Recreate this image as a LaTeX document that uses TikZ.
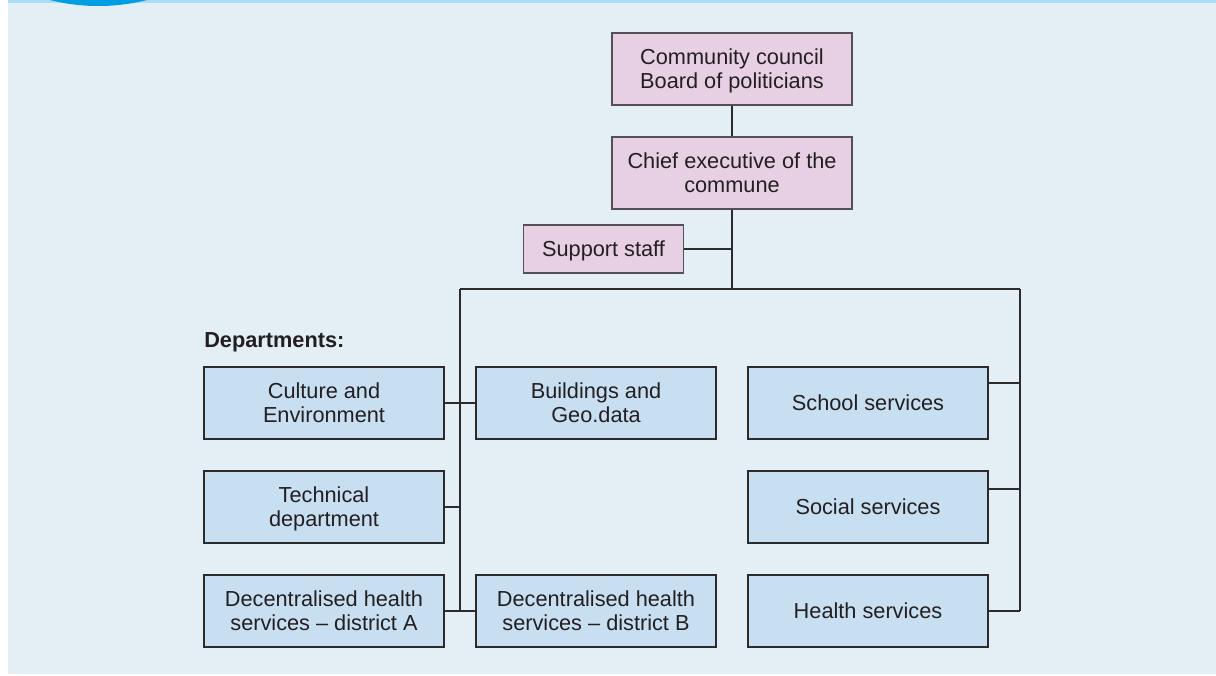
\documentclass[tikz,border=0pt]{standalone}
\usepackage{fontspec}
\setmainfont{Liberation Sans}
\usetikzlibrary{shadows}
\definecolor{bgblue}{HTML}{E3EEF5}
\definecolor{band}{HTML}{A8DDF5}
\definecolor{dotblue}{HTML}{009FE3}
\definecolor{boxblue}{HTML}{C8DFF2}
\definecolor{boxpink}{HTML}{E7CFE4}
\definecolor{txt}{HTML}{231F20}
\definecolor{edgec}{HTML}{2B2B2B}
\definecolor{pinkedge}{HTML}{555055}
\newcommand\fstr{\rule{0pt}{16.4pt}}
\newcommand\lstr{\rule[-5.4pt]{0pt}{0pt}}
\tikzset{
  base/.style={draw, line width=0.9pt, align=center, text=txt, inner sep=2pt,
    font=\fontsize{16.3}{18}\selectfont},
  deptbox/.style={base, fill=boxblue, draw=edgec, minimum width=180pt, minimum height=54pt,
    drop shadow={shadow xshift=0.8pt, shadow yshift=-0.8pt, fill=black!60, opacity=0.6}},
  topbox/.style={base, fill=boxpink, draw=pinkedge, minimum width=180pt, minimum height=54pt},
  smallbox/.style={base, fill=boxpink, draw=pinkedge, minimum width=120pt, minimum height=36pt},
  link/.style={draw=edgec, line width=0.9pt}
}
\begin{document}
\begin{tikzpicture}[x=0.75pt, y=-0.75pt]
\useasboundingbox (0,0) rectangle (1216,675);
\fill[white] (0,0) rectangle (1216,675);
\fill[bgblue] (8,0) rectangle (1216,674);
\fill[band] (8,0) rectangle (1216,3.3);
\begin{scope}
  \clip (0,0) rectangle (1216,675);
  \fill[dotblue] (98.5,-193) circle[radius=149.25pt];
\end{scope}

\node[topbox] (cc) at (732,69) {\fstr Community council\\Board of politicians\lstr};
\node[topbox] (ce) at (732,173) {\fstr Chief executive of the\\commune\lstr};
\node[smallbox] (ss) at (603.5,249) {\fstr Support staff\lstr};

\node[font=\fontsize{16.3}{18}\selectfont\bfseries, text=txt, anchor=west, inner sep=0pt] (dep) at (204,342) {Departments:};

\node[deptbox] (ca) at (324,403) {\fstr Culture and\\Environment\lstr};
\node[deptbox] (bg) at (596,403) {\fstr Buildings and\\Geo.data\lstr};
\node[deptbox] (sc) at (868,403) {\fstr School services\lstr};
\node[deptbox] (td) at (324,507) {\fstr Technical\\department\lstr};
\node[deptbox] (so) at (868,507) {\fstr Social services\lstr};
\node[deptbox] (da) at (324,611) {\fstr Decentralised health\\services -- district A\lstr};
\node[deptbox] (db) at (596,611) {\fstr Decentralised health\\services -- district B\lstr};
\node[deptbox] (hs) at (868,611) {\fstr Health services\lstr};

\coordinate (T) at (732,289);
\coordinate (L) at (460,289);
\coordinate (R) at (1020,289);
\coordinate (Lb) at (460,611);
\coordinate (Rb) at (1020,611);
\coordinate (scj) at ([yshift=15pt]sc.east);
\coordinate (soj) at ([yshift=13.5pt]so.east);

\draw[link] (cc.south) -- (ce.north);
\draw[link] (ce.south) -- (T);
\draw[link] (ss.east) -- (ss.east -| T);
\draw[link] (L) -- (R);
\draw[link] (L) -- (Lb);
\draw[link] (R) -- (Rb);
\draw[link] (ca.east) -- (bg.west);
\draw[link] (td.east) -- (td.east -| L);
\draw[link] (da.east) -- (db.west);
\draw[link] (scj) -- (scj -| R);
\draw[link] (soj) -- (soj -| R);
\draw[link] (hs.east) -- (hs.east -| R);
\end{tikzpicture}
\end{document}
